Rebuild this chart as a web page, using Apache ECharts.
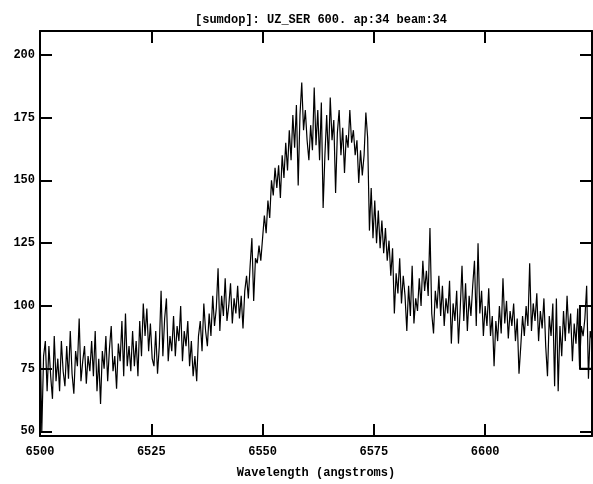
<!DOCTYPE html>
<html>
<head>
<meta charset="utf-8">
<script src="https://cdn.jsdelivr.net/npm/echarts@6/dist/echarts.min.js"></script>
<style>html,body{margin:0;padding:0;background:#fff}#c{width:593px;height:484px}</style>
</head>
<body>
<div id="c"></div>
<script>
// ---- data ----
const TITLE = "[sumdop]: UZ_SER 600. ap:34 beam:34";
const X_NAME = "Wavelength (angstroms)";
const WL_START = 6500;      // first wavelength (Å)
const WL_STEP = 0.4;        // dispersion (Å per pixel)
const X_TICKS = [6500, 6525, 6550, 6575, 6600];
const Y_TICKS = [50, 75, 100, 125, 150, 175, 200];
const X_RANGE = [6500, 6624];
const Y_RANGE = [48.2, 209.5];
// error bar box [wl1, wl2, flux1, flux2]
const ERR_BOX = [6621.3, 6624, 75, 100];

const flux6500 = [92, 50, 80, 86, 66, 84, 72, 63, 88, 70, 79, 66, 86, 74, 68, 84, 71, 90, 73, 65, 82, 76, 95, 70, 78];
const flux6510 = [84, 69, 80, 74, 86, 72, 90, 66, 79, 61, 82, 75, 88, 70, 83, 92, 74, 80, 67, 85, 78, 94, 72, 97, 76];
const flux6520 = [84, 74, 90, 76, 86, 72, 94, 80, 101, 88, 99, 82, 93, 79, 76, 90, 73, 84, 106, 80, 95, 103, 78, 88, 82];
const flux6530 = [96, 80, 92, 86, 100, 78, 90, 84, 94, 76, 86, 72, 80, 70, 88, 94, 82, 101, 90, 84, 97, 88, 104, 92, 99];
const flux6540 = [115, 90, 104, 96, 111, 94, 100, 109, 93, 103, 97, 108, 95, 104, 91, 106, 112, 103, 116, 127, 102, 119, 117, 124, 118];
const flux6550 = [127, 136, 129, 142, 135, 150, 144, 155, 147, 156, 143, 160, 151, 165, 154, 170, 158, 176, 163, 180, 148, 176, 189, 170, 178];
const flux6560 = [166, 158, 172, 162, 187, 164, 178, 158, 181, 139, 160, 176, 158, 183, 166, 174, 145, 169, 178, 160, 171, 153, 168, 163, 178];
const flux6570 = [165, 170, 160, 166, 149, 162, 152, 160, 177, 167, 130, 147, 127, 142, 125, 138, 123, 134, 121, 131, 118, 126, 112, 123, 97];
const flux6580 = [113, 105, 119, 101, 112, 104, 90, 108, 96, 116, 93, 103, 98, 111, 100, 118, 106, 114, 104, 131, 97, 89, 106, 99, 112];
const flux6590 = [96, 108, 92, 103, 97, 110, 85, 101, 94, 106, 85, 99, 116, 94, 109, 90, 104, 96, 108, 118, 92, 125, 97, 106, 88];
const flux6600 = [100, 92, 107, 88, 96, 76, 94, 86, 100, 89, 111, 93, 102, 87, 98, 92, 101, 86, 95, 73, 84, 96, 88, 100, 92];
const flux6610 = [117, 90, 101, 94, 105, 86, 98, 91, 103, 84, 72, 96, 88, 101, 68, 103, 66, 92, 80, 98, 86, 104, 89, 97, 78];
const flux6620 = [93, 85, 99, 76, 92, 88, 95, 108, 71, 90, 86];

// ---- build ----
const flux = [].concat(flux6500, flux6510, flux6520, flux6530, flux6540, flux6550,
  flux6560, flux6570, flux6580, flux6590, flux6600, flux6610, flux6620);
const seriesData = flux.map((f, i) => [+(WL_START + i * WL_STEP).toFixed(2), f]);

const FONT = '"Liberation Mono", "DejaVu Sans Mono", monospace';
const txt = { fontFamily: FONT, fontWeight: 'bold', fontSize: 12, color: '#000' };
const lineStyle = { color: '#000', width: 2 };
const plain = v => String(Math.round(v));

function xAx(pos, labels) {
  return {
    type: 'value', position: pos, min: X_RANGE[0], max: X_RANGE[1],
    axisLine: { show: true, onZero: false, lineStyle },
    axisTick: { show: true, inside: true, length: 12, lineStyle, customValues: X_TICKS },
    axisLabel: Object.assign({ show: labels, margin: 10, customValues: X_TICKS, formatter: plain }, txt),
    splitLine: { show: false },
    name: labels ? X_NAME : '', nameLocation: 'middle', nameGap: 31,
    nameTextStyle: txt
  };
}
function yAx(pos, labels) {
  return {
    type: 'value', position: pos, min: Y_RANGE[0], max: Y_RANGE[1],
    axisLine: { show: true, onZero: false, lineStyle },
    axisTick: { show: true, inside: true, length: 12, lineStyle, customValues: Y_TICKS },
    axisLabel: Object.assign({ show: labels, margin: 5, customValues: Y_TICKS, formatter: plain }, txt),
    splitLine: { show: false }
  };
}

const chart = echarts.init(document.getElementById('c'), null, { renderer: 'canvas' });
chart.setOption({
  animation: false,
  backgroundColor: '#fff',
  title: { text: TITLE, left: 316, top: 9, textAlign: 'center', textStyle: txt },
  grid: { left: 40, right: 1, top: 31, bottom: 44, containLabel: false },
  xAxis: [xAx('bottom', true), xAx('top', false)],
  yAxis: [yAx('left', true), yAx('right', false)],
  series: [{
    type: 'line', xAxisIndex: 0, yAxisIndex: 0,
    data: seriesData, showSymbol: false, symbol: 'none',
    lineStyle: { color: '#000', width: 1.2 },
    markArea: {
      silent: true,
      itemStyle: { color: 'rgba(0,0,0,0)', borderColor: '#000', borderWidth: 2 },
      data: [[{ coord: [ERR_BOX[0], ERR_BOX[2]] }, { coord: [ERR_BOX[1], ERR_BOX[3]] }]]
    }
  }]
});
</script>
</body>
</html>
